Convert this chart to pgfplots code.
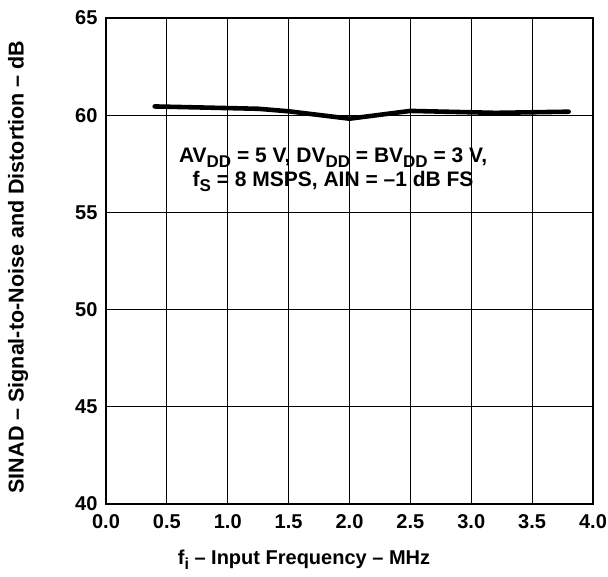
\documentclass[border=0pt]{standalone}
\usepackage{pgfplots}
\pgfplotsset{compat=1.18}
\usepackage{fontspec}
\setmainfont{Liberation Sans}
\newcommand{\fs}[1]{\fontsize{#1bp}{#1bp}\selectfont}
\newcommand{\sub}[1]{\raisebox{-5bp}{\fs{17}#1}}
\newcommand{\subl}[1]{\raisebox{-5bp}{\fs{16}#1}}
\begin{document}
\begin{tikzpicture}[x=1bp,y=1bp]
\useasboundingbox (-106,-73) rectangle (502,504);
\begin{axis}[
  at={(0,0)}, anchor=south west,
  scale only axis, width=487bp, height=486bp,
  xmin=0, xmax=4, ymin=40, ymax=65,
  xtick={0,0.5,...,4}, ytick={40,45,...,65},
  xticklabel={\fs{20}\bfseries\pgfmathprintnumber[fixed,fixed zerofill,precision=1,assume math mode=true]{\tick}},
  yticklabel={\fs{20}\bfseries\pgfmathprintnumber[assume math mode=true]{\tick}},
  xticklabel style={yshift=-7bp},
  yticklabel style={xshift=-5bp},
  grid=major, major grid style={black, line width=0.8pt},
  axis line style={line width=2.6pt},
  major tick length=0pt,
  clip=false,
]
\addplot[black, line width=4.6pt, line join=round, line cap=round] coordinates {
 (0.4,60.45) (1.25,60.33) (1.5,60.2) (2.0,59.82) (2.5,60.22) (3.2,60.12) (3.8,60.18)
};
\node[align=center, inner sep=1pt] at (axis cs:1.865,57.2)
 {\fs{21}\bfseries AV\sub{DD} = 5 V, DV\sub{DD} = BV\sub{DD} = 3 V,\\[3bp] \fs{21}\bfseries f\sub{S} = 8 MSPS, AIN = --1 dB FS};
\end{axis}
\node[anchor=base] at (198,-60) {\fs{20}\bfseries f\subl{i} -- Input Frequency -- MHz};
\node[rotate=90, anchor=center] at (-88,237) {\fs{21.5}\bfseries SINAD -- Signal-to-Noise and Distortion -- dB};
\end{tikzpicture}
\end{document}
